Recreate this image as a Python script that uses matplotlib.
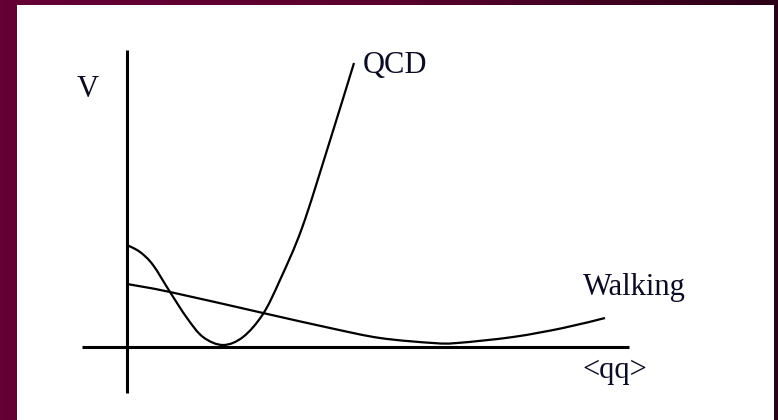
import numpy as np
import matplotlib.pyplot as plt
from matplotlib.patches import Rectangle, PathPatch
from matplotlib.path import Path
from matplotlib.colors import LinearSegmentedColormap

# effective potential sketch, units: origin at the axis crossing
qcd_x = [0.00, 0.13, 0.26, 0.43, 0.60, 0.76, 0.96, 1.16, 1.36, 1.53, 1.75, 2.01, 2.27]
qcd_y = [1.02, 0.95, 0.82, 0.55, 0.29, 0.10, 0.02, 0.10, 0.33, 0.67, 1.19, 2.00, 2.84]

walk_x = [0.00, 0.43, 1.36, 2.03, 2.53, 3.06, 3.30, 3.86, 4.36, 4.78]
walk_y = [0.63, 0.55, 0.34, 0.19, 0.09, 0.04, 0.04, 0.10, 0.19, 0.29]

v_axis_y = [-0.46, 2.97]
h_axis_x = [-0.45, 5.02]


def smooth_path(xs, ys):
    # Catmull-Rom through the points, handed to matplotlib as cubic Beziers
    p = np.column_stack([xs, ys])
    p = np.vstack([p[0], p, p[-1]])
    verts = [p[1]]
    codes = [Path.MOVETO]
    for i in range(1, len(p) - 2):
        c1 = p[i] + (p[i + 1] - p[i - 1]) / 6
        c2 = p[i + 1] - (p[i + 2] - p[i]) / 6
        verts += [c1, c2, p[i + 1]]
        codes += [Path.CURVE4] * 3
    return Path(verts, codes)


fig = plt.figure(figsize=(7.78, 4.2), dpi=100)

# maroon slide background, a little darker towards the right
bg = fig.add_axes([0, 0, 1, 1])
bg.set_axis_off()
grad = np.linspace(0, 1, 256)[None, :]
cmap = LinearSegmentedColormap.from_list('slide', ['#660035', '#5a002e', '#2c0016'])
bg.imshow(grad, aspect='auto', cmap=cmap, extent=[0, 1, 0, 1])
bg.set_xlim(0, 1)
bg.set_ylim(0, 1)

ax = fig.add_axes([0, 0, 1, 1])
ax.set_axis_off()
ax.set_xlim(-1.27, 6.51)
ax.set_ylim(-0.73, 3.47)
ax.add_patch(Rectangle((-1.10, -0.80), 7.57, 4.22, facecolor='white', edgecolor='none'))

ax.plot([0, 0], v_axis_y, color='black', lw=2.2, solid_capstyle='butt')
ax.plot(h_axis_x, [0, 0], color='black', lw=2.2, solid_capstyle='butt')

for xs, ys in [(qcd_x, qcd_y), (walk_x, walk_y)]:
    ax.add_patch(PathPatch(smooth_path(xs, ys), facecolor='none',
                           edgecolor='black', lw=1.6, capstyle='butt'))

font = dict(family='Liberation Serif', fontsize=22, color='#0b0b22', va='baseline')
ax.text(-0.50, 2.50, 'V', ha='left', **font)
ax.text(2.36, 2.74, 'QCD', ha='left', **font)
ax.text(4.56, 0.52, 'Walking', ha='left', **font)
ax.text(4.55, -0.31, '<qq>', ha='left', **font)

fig.savefig('out.png', dpi=100)
